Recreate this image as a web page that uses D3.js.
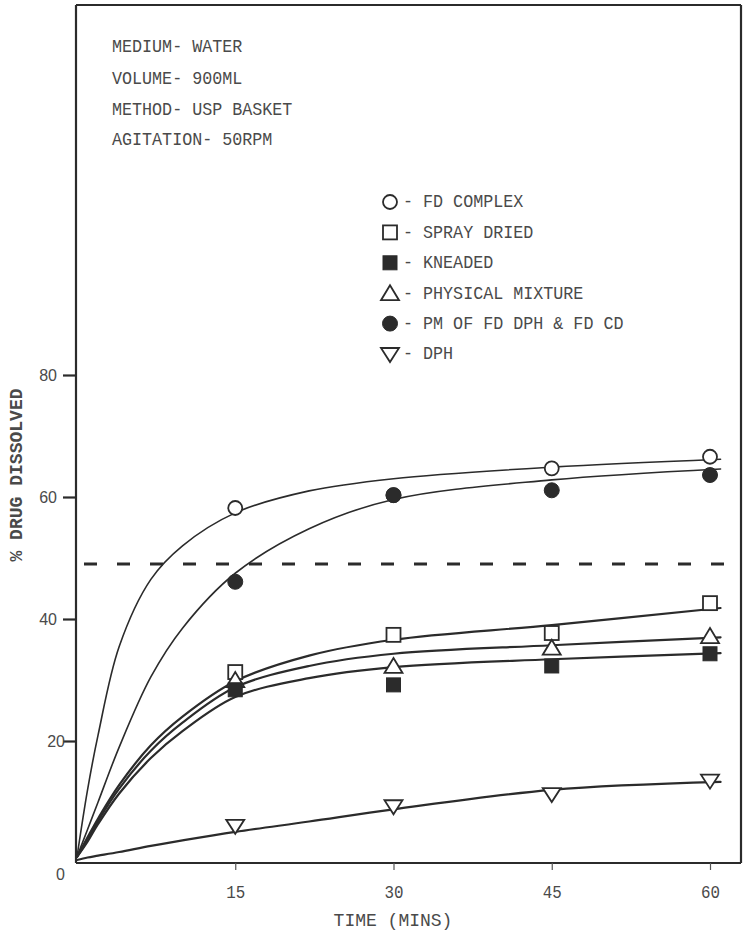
<!DOCTYPE html>
<html>
<head>
<meta charset="utf-8">
<script src="https://cdn.jsdelivr.net/npm/d3@7/dist/d3.min.js"></script>
<style>
  html, body { margin: 0; padding: 0; background: #fff; }
  svg { display: block; }
</style>
</head>
<body>
<svg id="chart" width="744" height="936"></svg>
<script>
// Dissolution profiles: % drug dissolved vs time (minutes)
const sampleTimes = [15, 30, 45, 60];
const fdComplex       = [58.2, 60.3, 64.7, 66.6];
const sprayDried      = [31.3, 37.4, 37.7, 42.6];
const kneaded         = [28.4, 29.2, 32.3, 34.3];
const physicalMixture = [30.0, 32.3, 35.3, 37.2];
const pmFdDphFdCd     = [46.1, 60.3, 61.1, 63.6];
const dph             = [6.1, 9.3, 11.3, 13.5];

// Smooth fitted curves, sampled along the time axis
const fitTimes = [0, 1, 2, 4, 7, 10, 15, 22, 30, 45, 61];
const fitFdComplex       = [1, 12, 21, 35.5, 46.5, 52, 57.4, 61, 63, 64.9, 66.2];
const fitPmFdDphFdCd     = [1, 5.5, 10, 19, 30.5, 38.5, 47.5, 54.8, 59.6, 62.8, 64.6];
const fitSprayDried      = [1, 4.2, 7.3, 12.8, 19.3, 24, 29.8, 34, 36.6, 39, 41.8];
const fitPhysicalMixture = [1, 3.8, 6.9, 12.2, 18.4, 23, 28.8, 32.3, 34.3, 35.7, 37];
const fitKneaded         = [1, 3.5, 6.4, 11.4, 17.2, 21.6, 27.2, 30.3, 32.1, 33.4, 34.4];
const fitDph             = [0.5, 0.9, 1.2, 1.8, 2.8, 3.7, 5.1, 6.8, 8.8, 12, 13.3];

const xTicks = [15, 30, 45, 60];
const yTicks = [0, 20, 40, 60, 80];
const referenceLevel = 49;

const conditions = ["MEDIUM- WATER", "VOLUME- 900ML", "METHOD- USP BASKET", "AGITATION- 50RPM"];
const legendLabels = ["- FD COMPLEX", "- SPRAY DRIED", "- KNEADED", "- PHYSICAL MIXTURE", "- PM OF FD DPH & FD CD", "- DPH"];

const INK = "#2b2b2b";
const TEXT = "#4a4a4a";
const PLOT_FONT = "'Liberation Mono', 'DejaVu Sans Mono', monospace";

const svg = d3.select("#chart");
const frameLeft = 76, frameRight = 741, frameTop = 5, frameBottom = 863;

const x = d3.scaleLinear().domain([0, 60]).range([77, 710]);
const y = d3.scaleLinear().domain([0, 80]).range([863, 375]);

// Frame
const frame = svg.append("g").attr("stroke", INK).attr("stroke-width", 2.2).attr("fill", "none");
frame.append("line").attr("x1", frameLeft).attr("x2", frameRight).attr("y1", frameTop).attr("y2", frameTop);
frame.append("line").attr("x1", frameRight).attr("x2", frameRight).attr("y1", frameTop).attr("y2", frameBottom);
frame.append("line").attr("x1", frameLeft).attr("x2", frameLeft).attr("y1", frameTop).attr("y2", frameBottom);
frame.append("line").attr("x1", frameLeft).attr("x2", frameRight).attr("y1", frameBottom).attr("y2", frameBottom);

// Plotter-style text helper (condensed monospace)
function plotText(g, px, py, str, opts = {}) {
  const t = g.append("g").attr("transform", `translate(${px},${py})${opts.rotate ? ` rotate(${opts.rotate})` : ""}`)
    .append("text")
    .attr("transform", `scale(${opts.sx || 0.88},1)`)
    .attr("text-anchor", opts.anchor || "start")
    .attr("dominant-baseline", "central")
    .attr("font-family", PLOT_FONT)
    .attr("font-size", opts.size || 19)
    .attr("font-weight", opts.weight || "normal")
    .attr("fill", opts.fill || TEXT)
    .text(str);
  return t;
}

// Y axis
const yAxis = svg.append("g")
  .attr("transform", `translate(${frameLeft},0)`)
  .call(d3.axisLeft(y).tickValues(yTicks).tickSize(13).tickPadding(6).tickFormat(d3.format("d")));
yAxis.select(".domain").remove();
yAxis.selectAll(".tick line").attr("stroke", INK).attr("stroke-width", 2.2);
yAxis.selectAll(".tick text")
  .attr("font-family", "'Liberation Sans', Arial, sans-serif")
  .attr("font-size", 16)
  .attr("fill", TEXT);
yAxis.selectAll(".tick").filter(d => d === 0).select("line").remove();
yAxis.selectAll(".tick").filter(d => d === 0).select("text").attr("x", -11).attr("dy", "1.05em");
yAxis.selectAll(".tick").filter(d => d === 20).select("text").attr("x", -11);

// X axis
const xAxis = svg.append("g")
  .attr("transform", `translate(0,${frameBottom})`)
  .call(d3.axisBottom(x).tickValues(xTicks).tickSize(7).tickFormat(d3.format("d")));
xAxis.select(".domain").remove();
xAxis.selectAll(".tick line").attr("stroke", "#555").attr("stroke-width", 1.2);
xAxis.selectAll(".tick text").remove();
xAxis.selectAll(".tick").each(function(d) {
  plotText(d3.select(this), 0, 30, String(d), { anchor: "middle", size: 18 });
});

// Axis titles
plotText(svg, 393, 921, "TIME (MINS)", { anchor: "middle", size: 18, sx: 1.0 });
plotText(svg, 17, 475, "% DRUG DISSOLVED", { anchor: "middle", size: 19, rotate: -90, weight: "bold", sx: 0.95 });

// Test conditions
conditions.forEach((c, i) => {
  const cy = [47, 79, 110, 140][i];
  plotText(svg, 112, cy, c, { size: 19 });
});

// Dashed reference line
svg.append("line")
  .attr("x1", 84).attr("x2", frameRight)
  .attr("y1", y(referenceLevel)).attr("y2", y(referenceLevel))
  .attr("stroke", INK).attr("stroke-width", 3)
  .attr("stroke-dasharray", "13,20");

// Fitted curves
const line = d3.line()
  .x(d => x(d[0]))
  .y(d => y(d[1]))
  .curve(d3.curveCatmullRom.alpha(0.5));

const fits = [
  { vals: fitFdComplex, w: 1.6 },
  { vals: fitPmFdDphFdCd, w: 1.6 },
  { vals: fitSprayDried, w: 2.2 },
  { vals: fitPhysicalMixture, w: 2.2 },
  { vals: fitKneaded, w: 2.2 },
  { vals: fitDph, w: 2.2 }
];
svg.append("g").selectAll("path")
  .data(fits)
  .join("path")
  .attr("d", f => line(fitTimes.map((t, i) => [t, f.vals[i]])))
  .attr("fill", "none")
  .attr("stroke", INK)
  .attr("stroke-width", f => f.w)
  .attr("stroke-linejoin", "round")
  .attr("stroke-linecap", "round");

// Marker shapes
function marker(g, kind, cx, cy) {
  const s = g.append("g").attr("transform", `translate(${cx},${cy})`);
  const open = { fill: "#fff", stroke: INK, "stroke-width": 1.8 };
  const solid = { fill: INK, stroke: INK, "stroke-width": 1 };
  const apply = (sel, st) => { Object.entries(st).forEach(([k, v]) => sel.attr(k, v)); return sel; };
  if (kind === "openCircle") apply(s.append("circle").attr("r", 7), open);
  if (kind === "solidCircle") apply(s.append("circle").attr("r", 7.5), solid);
  if (kind === "openSquare") apply(s.append("rect").attr("x", -7).attr("y", -7).attr("width", 14).attr("height", 14), open);
  if (kind === "solidSquare") apply(s.append("rect").attr("x", -7).attr("y", -7).attr("width", 14).attr("height", 14), solid);
  if (kind === "triUp") apply(s.append("path").attr("d", "M0,-8L9,7L-9,7Z"), open);
  if (kind === "triDown") apply(s.append("path").attr("d", "M-9,-6L9,-6L0,8Z"), open);
  return s;
}

const series = [
  { vals: fdComplex, kind: "openCircle" },
  { vals: sprayDried, kind: "openSquare" },
  { vals: physicalMixture, kind: "triUp" },
  { vals: kneaded, kind: "solidSquare" },
  { vals: pmFdDphFdCd, kind: "solidCircle" },
  { vals: dph, kind: "triDown" }
];
const pts = svg.append("g");
series.forEach(s => {
  sampleTimes.forEach((t, i) => marker(pts, s.kind, x(t), y(s.vals[i])));
});

// Legend
const legendKinds = ["openCircle", "openSquare", "solidSquare", "triUp", "solidCircle", "triDown"];
const legend = svg.append("g");
legendLabels.forEach((lab, i) => {
  const cy = 202 + i * 30.4;
  marker(legend, legendKinds[i], 390, cy);
  plotText(legend, 403, cy, lab, { size: 19 });
});
</script>
</body>
</html>
